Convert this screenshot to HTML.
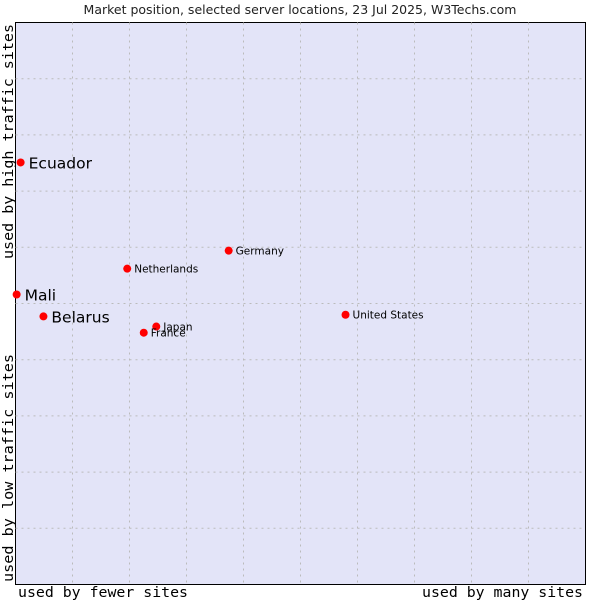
<!DOCTYPE html>
<html><head><meta charset="utf-8"><style>
body{margin:0;background:#fff;}
svg{display:block;font-family:"DejaVu Sans","Liberation Sans",sans-serif;}
</style></head><body>
<svg id="chart" width="600" height="600">
<text x="300" y="14" text-anchor="middle" font-size="12.5" fill="#222">Market position, selected server locations, 23 Jul 2025, W3Techs.com</text>
<rect x="15.5" y="22.5" width="570" height="562" fill="#e3e4f8" stroke="#000" stroke-width="1"/>
<g id="grid"></g>
<g id="marks"></g>
<text x="18" y="597" textLength="170" lengthAdjust="spacingAndGlyphs" font-family="'DejaVu Sans Mono','Liberation Mono',monospace" font-size="14" fill="#000">used by fewer sites</text>
<text x="422" y="597" textLength="161" lengthAdjust="spacingAndGlyphs" font-family="'DejaVu Sans Mono','Liberation Mono',monospace" font-size="14" fill="#000">used by many sites</text>
<text transform="translate(13,582) rotate(-90)" textLength="228" lengthAdjust="spacingAndGlyphs" font-family="'DejaVu Sans Mono','Liberation Mono',monospace" font-size="14" fill="#000">used by low traffic sites</text>
<text transform="translate(13,259) rotate(-90)" textLength="235" lengthAdjust="spacingAndGlyphs" font-family="'DejaVu Sans Mono','Liberation Mono',monospace" font-size="14" fill="#000">used by high traffic sites</text>
</svg>
<script>
const names=["Ecuador","Mali","Belarus","Netherlands","Germany","United States","Japan","France"];
const xValues=[0.9,0.2,4.9,19.6,37.4,57.9,24.7,22.5];
const yValues=[75.1,51.6,47.7,56.2,59.4,48.0,45.9,44.8];
const bigLabel=[true,true,true,false,false,false,false,false];
const X0=15.5,X1=585.5,Y0=584.5,Y1=22.5;
const sx=v=>X0+(X1-X0)*v/100, sy=v=>Y0-(Y0-Y1)*v/100;
const NS="http://www.w3.org/2000/svg";
const grid=document.getElementById('grid'), marks=document.getElementById('marks');
for(let i=1;i<10;i++){
  const v=document.createElementNS(NS,'line');
  v.setAttribute('x1',sx(i*10));v.setAttribute('x2',sx(i*10));v.setAttribute('y1',Y1);v.setAttribute('y2',Y0);
  v.setAttribute('stroke','#bbb');v.setAttribute('stroke-dasharray','2,4');
  
  
  grid.appendChild(v);
  const h=document.createElementNS(NS,'line');
  h.setAttribute('y1',sy(i*10));h.setAttribute('y2',sy(i*10));h.setAttribute('x1',X0);h.setAttribute('x2',X1);
  h.setAttribute('stroke','#bbb');h.setAttribute('stroke-dasharray','2,4');
  
  
  grid.appendChild(h);
}
names.forEach((n,i)=>{
  const x=sx(xValues[i]),y=sy(yValues[i]);
  const p=document.createElementNS(NS,'circle');
  p.setAttribute('cx',x);p.setAttribute('cy',y);p.setAttribute('r',4);
  p.setAttribute('fill','#f00');
  
  
  marks.appendChild(p);
  const t=document.createElementNS(NS,'text');
  t.setAttribute('x',x+(bigLabel[i]?8:7));t.setAttribute('y',y+(bigLabel[i]?6:4));
  t.setAttribute('font-size',bigLabel[i]?'15.5':'10.5');t.setAttribute('fill','#000');
  t.textContent=n;
  
  
  marks.appendChild(t);
});
</script>
</body></html>
